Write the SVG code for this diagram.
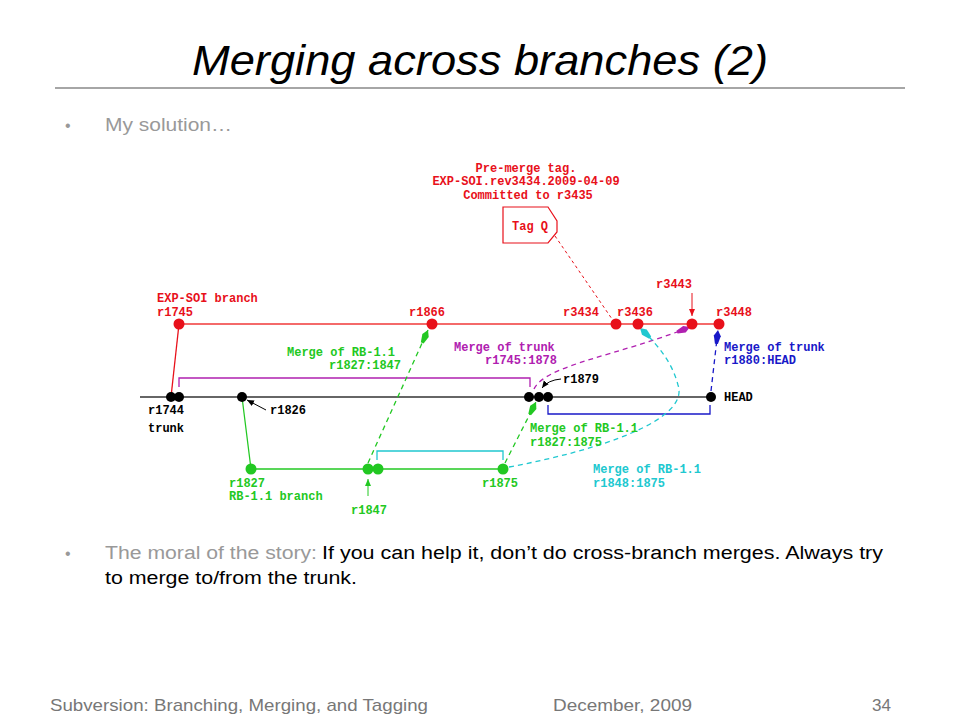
<svg xmlns="http://www.w3.org/2000/svg" width="960" height="720" viewBox="0 0 960 720">
<style>
.t{font-family:"Liberation Mono","DejaVu Sans Mono",monospace;font-size:12px;font-weight:bold}
.red{fill:#e8101a}.grn{fill:#22c822}.pur{fill:#b020b0}.blu{fill:#1818c8}.cyn{fill:#20c8d0}.blk{fill:#000}
.s{font-family:"Liberation Sans",Arial,sans-serif}
.dash{fill:none;stroke-width:1.3;stroke-dasharray:5,4}
</style>
<defs>
<marker id="mg" markerUnits="userSpaceOnUse" viewBox="-15 -5 16 10" refX="0" refY="0" markerWidth="16" markerHeight="10" orient="auto"><path d="M0,0 L-6,-3.5 L-14,-1.5 L-14,1.5 L-6,3.5 Z" fill="#22c822"/></marker>
<marker id="mp" markerUnits="userSpaceOnUse" viewBox="-15 -5 16 10" refX="0" refY="0" markerWidth="16" markerHeight="10" orient="auto"><path d="M0,0 L-6,-3.5 L-14,-1.5 L-14,1.5 L-6,3.5 Z" fill="#b020b0"/></marker>
<marker id="mb" markerUnits="userSpaceOnUse" viewBox="-15 -5 16 10" refX="0" refY="0" markerWidth="16" markerHeight="10" orient="auto"><path d="M0,0 L-6,-3.5 L-14,-1.5 L-14,1.5 L-6,3.5 Z" fill="#1818c8"/></marker>
<marker id="mc" markerUnits="userSpaceOnUse" viewBox="-15 -5 16 10" refX="0" refY="0" markerWidth="16" markerHeight="10" orient="auto"><path d="M0,0 L-6,-3.5 L-14,-1.5 L-14,1.5 L-6,3.5 Z" fill="#20c8d0"/></marker>
<marker id="ar" markerUnits="userSpaceOnUse" viewBox="-7 -4 8 8" refX="0" refY="0" markerWidth="8" markerHeight="8" orient="auto"><path d="M0,0 L-7,-3 L-7,3 Z" fill="#e8101a"/></marker>
<marker id="ag" markerUnits="userSpaceOnUse" viewBox="-7 -4 8 8" refX="0" refY="0" markerWidth="8" markerHeight="8" orient="auto"><path d="M0,0 L-7,-3 L-7,3 Z" fill="#22c822"/></marker>
<marker id="ak" markerUnits="userSpaceOnUse" viewBox="-7 -4 8 8" refX="0" refY="0" markerWidth="8" markerHeight="8" orient="auto"><path d="M0,0 L-7,-3 L-7,3 Z" fill="#000"/></marker>
</defs>
<rect width="960" height="720" fill="#fff"/>

<g id="slide-text">
<text x="480" y="75" text-anchor="middle" class="s" font-size="42" font-style="italic" textLength="576" lengthAdjust="spacingAndGlyphs">Merging across branches (2)</text>
<line x1="55" y1="88" x2="905" y2="88" stroke="#888" stroke-width="1.3"/>
<text x="65" y="131" class="s" font-size="16" fill="#999">•</text>
<text x="105" y="131" class="s" font-size="18" fill="#999" textLength="127" lengthAdjust="spacingAndGlyphs">My solution…</text>
<text x="65" y="559" class="s" font-size="16" fill="#999">•</text>
<text x="105" y="559" class="s" font-size="18" fill="#999" textLength="212" lengthAdjust="spacingAndGlyphs">The moral of the story:</text>
<text x="322" y="559" class="s" font-size="18" fill="#000" textLength="561" lengthAdjust="spacingAndGlyphs">If you can help it, don’t do cross-branch merges. Always try</text>
<text x="105" y="584" class="s" font-size="18" fill="#000" textLength="252" lengthAdjust="spacingAndGlyphs">to merge to/from the trunk.</text>
<text x="50" y="711" class="s" font-size="17" fill="#777" textLength="378" lengthAdjust="spacingAndGlyphs">Subversion: Branching, Merging, and Tagging</text>
<text x="553" y="711" class="s" font-size="17" fill="#777" textLength="139" lengthAdjust="spacingAndGlyphs">December, 2009</text>
<text x="872" y="711" class="s" font-size="17" fill="#777" textLength="19" lengthAdjust="spacingAndGlyphs">34</text>
</g>

<g id="connectors">
<line x1="140" y1="397" x2="711" y2="397" stroke="#333" stroke-width="1.3"/>
<line x1="179" y1="324" x2="719" y2="324" stroke="#f03838" stroke-width="1.3"/>
<line x1="171" y1="397" x2="179" y2="324" stroke="#e8101a" stroke-width="1.3"/>
<line x1="251" y1="469" x2="503" y2="469" stroke="#22c822" stroke-width="1.3"/>
<line x1="242" y1="397" x2="251" y2="469" stroke="#22c822" stroke-width="1.3"/>
<polyline points="179,387 179,378 530,378 530,387" fill="none" stroke="#b020b0" stroke-width="1.3"/>
<polyline points="548,405 548,414 710,414 710,405" fill="none" stroke="#1818c8" stroke-width="1.3"/>
<polyline points="377,460 377,451 503,451 503,460" fill="none" stroke="#20c8d0" stroke-width="1.3"/>
<path class="dash" d="M368,463 L428,330" stroke="#22c822" marker-end="url(#mg)"/>
<path class="dash" d="M505,463 L536,402" stroke="#22c822" marker-end="url(#mg)"/>
<path class="dash" d="M534,389 C545,365 620,355 690,327" stroke="#b020b0" marker-end="url(#mp)"/>
<path class="dash" d="M711,391 L718,330" stroke="#1818c8" marker-end="url(#mb)"/>
<path class="dash" d="M509,467 C600,450 690,420 678,385 C672,362 658,345 640,328" stroke="#20c8d0" marker-end="url(#mc)"/>
<path d="M555,236 L612,319" fill="none" stroke="#e8101a" stroke-width="1" stroke-dasharray="3,3"/>
<line x1="692" y1="293" x2="692" y2="316" stroke="#e8101a" stroke-width="1" marker-end="url(#ar)"/>
<line x1="368" y1="496" x2="368" y2="479" stroke="#22c822" stroke-width="1" marker-end="url(#ag)"/>
<line x1="266" y1="410" x2="247" y2="400" stroke="#000" stroke-width="1" marker-end="url(#ak)"/>
<path d="M561,379 Q548,380 542,388" fill="none" stroke="#000" stroke-width="1" marker-end="url(#ak)"/>
</g>

<g id="trunk">
<circle cx="171" cy="397" r="5" class="blk"/>
<circle cx="179" cy="397" r="5" class="blk"/>
<circle cx="242" cy="397" r="5" class="blk"/>
<circle cx="529" cy="397" r="5" class="blk"/>
<circle cx="539" cy="397" r="5" class="blk"/>
<circle cx="548" cy="397" r="5" class="blk"/>
<circle cx="711" cy="397" r="5" class="blk"/>
<text x="148" y="414" class="t blk">r1744</text>
<text x="148" y="432" class="t blk">trunk</text>
<text x="270" y="414" class="t blk">r1826</text>
<text x="563" y="383" class="t blk">r1879</text>
<text x="724" y="401" class="t blk">HEAD</text>
</g>

<g id="exp-soi-branch">
<circle cx="179" cy="324" r="5.5" class="red"/>
<circle cx="432" cy="324" r="5.5" class="red"/>
<circle cx="616" cy="324" r="5.5" class="red"/>
<circle cx="638" cy="324" r="5.5" class="red"/>
<circle cx="692" cy="324" r="5.5" class="red"/>
<circle cx="719" cy="324" r="5.5" class="red"/>
<text x="157" y="302" class="t red">EXP-SOI branch</text>
<text x="157" y="316" class="t red">r1745</text>
<text x="409" y="316" class="t red">r1866</text>
<text x="563" y="316" class="t red">r3434</text>
<text x="617" y="316" class="t red">r3436</text>
<text x="656" y="288" class="t red">r3443</text>
<text x="716" y="316" class="t red">r3448</text>
</g>

<g id="tag">
<path d="M503,207 L548,207 L557,221 L557,232 L548,243 L503,243 Z" fill="#fff" stroke="#e8101a" stroke-width="1.2"/>
<text x="512" y="230" class="t red">Tag Q</text>
<text x="526" y="172" text-anchor="middle" class="t red">Pre-merge tag.</text>
<text x="526" y="185" text-anchor="middle" class="t red">EXP-SOI.rev3434.2009-04-09</text>
<text x="528" y="199" text-anchor="middle" class="t red">Committed to r3435</text>
</g>

<g id="rb-branch">
<circle cx="251" cy="469" r="5.5" class="grn"/>
<circle cx="368" cy="469" r="5.5" class="grn"/>
<circle cx="378" cy="469" r="5.5" class="grn"/>
<circle cx="503" cy="469" r="5.5" class="grn"/>
<text x="229" y="487" class="t grn">r1827</text>
<text x="229" y="500" class="t grn">RB-1.1 branch</text>
<text x="351" y="514" class="t grn">r1847</text>
<text x="482" y="487" class="t grn">r1875</text>
</g>

<g id="merge-labels">
<text x="287" y="356" class="t grn">Merge of RB-1.1</text>
<text x="401" y="369" text-anchor="end" class="t grn">r1827:1847</text>
<text x="530" y="432" class="t grn">Merge of RB-1.1</text>
<text x="530" y="446" class="t grn">r1827:1875</text>
<text x="454" y="351" class="t pur">Merge of trunk</text>
<text x="557" y="364" text-anchor="end" class="t pur">r1745:1878</text>
<text x="724" y="351" class="t blu">Merge of trunk</text>
<text x="724" y="364" class="t blu">r1880:HEAD</text>
<text x="593" y="473" class="t cyn">Merge of RB-1.1</text>
<text x="593" y="487" class="t cyn">r1848:1875</text>
</g>
</svg>
